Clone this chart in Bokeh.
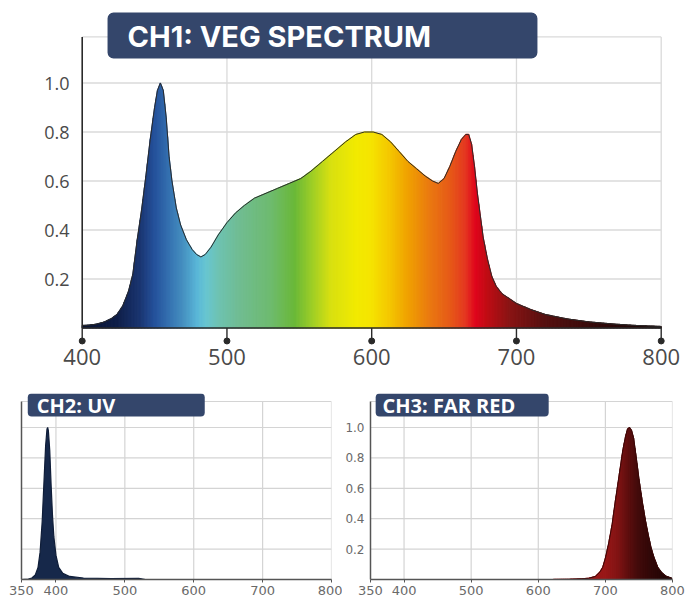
import numpy as np
from bokeh.plotting import figure
from bokeh.layouts import column, row
from bokeh.models import BoxAnnotation, Label, FixedTicker, PrintfTickFormatter, Range1d
from bokeh.embed import file_html
from bokeh.resources import INLINE

# ---------------- data ----------------
ch1_title = "CH1: VEG SPECTRUM"
ch2_title = "CH2: UV"
ch3_title = "CH3: FAR RED"

ch1_nm = [400, 405, 410, 415, 420, 424, 428, 432, 435, 438, 441, 444, 447, 450, 452, 454,
          456, 458, 460, 462, 465, 468, 472, 476, 479, 482, 485, 489, 494, 500, 506, 512,
          519, 527, 535, 543, 551, 558, 566, 574, 582, 589, 595, 601, 607, 613, 619, 625,
          631, 637, 642, 646, 650, 654, 658, 662, 665, 667, 669, 671, 673, 675, 677, 680,
          683, 686, 690, 695, 700, 710, 720, 735, 750, 765, 780, 800]
ch1_val = [0.010, 0.012, 0.016, 0.024, 0.038, 0.055, 0.09, 0.15, 0.22, 0.36, 0.48, 0.62, 0.77,
           0.90, 0.97, 1.00, 0.97, 0.86, 0.70, 0.60, 0.49, 0.42, 0.36, 0.32, 0.30, 0.29, 0.30,
           0.33, 0.38, 0.43, 0.47, 0.50, 0.53, 0.55, 0.57, 0.59, 0.61, 0.64, 0.68, 0.72, 0.76,
           0.79, 0.80, 0.80, 0.79, 0.76, 0.72, 0.68, 0.65, 0.62, 0.60, 0.59, 0.61, 0.66, 0.72,
           0.77, 0.79, 0.79, 0.75, 0.66, 0.55, 0.46, 0.37, 0.28, 0.21, 0.17, 0.14, 0.12, 0.10,
           0.075, 0.055, 0.037, 0.025, 0.017, 0.011, 0.006]

ch2_nm = [350, 360, 365, 370, 374, 377, 380, 383, 385, 387, 388, 389, 391, 393, 395, 397,
          400, 404, 410, 420, 440, 480, 520, 530]
ch2_val = [0.0, 0.003, 0.01, 0.03, 0.08, 0.18, 0.38, 0.68, 0.88, 0.99, 1.00, 0.98, 0.85, 0.62,
           0.42, 0.28, 0.16, 0.08, 0.04, 0.02, 0.01, 0.006, 0.008, 0.0]

ch3_nm = [620, 650, 665, 675, 685, 692, 696, 700, 705, 710, 714, 718, 722, 726, 730, 733, 736,
          739, 742, 746, 750, 755, 760, 764, 768, 772, 778, 784, 790, 799]
ch3_val = [0.0, 0.002, 0.005, 0.008, 0.02, 0.05, 0.08, 0.14, 0.24, 0.36, 0.49, 0.61, 0.73, 0.85,
           0.94, 0.99, 1.00, 0.98, 0.93, 0.80, 0.66, 0.51, 0.38, 0.29, 0.21, 0.15, 0.08, 0.045,
           0.022, 0.008]

top_x_ticks = [400, 500, 600, 700, 800]
bottom_x_ticks = [350, 400, 500, 600, 700, 800]
y_ticks = [0.2, 0.4, 0.6, 0.8, 1.0]

# ---------------- styles ----------------
ch1_stops = [(400, "#0a1430"), (425, "#0f1f4a"), (440, "#1a3570"), (450, "#24509a"),
             (460, "#3470b0"), (470, "#4590c0"), (480, "#5ab8d8"), (486, "#68c6d0"),
             (495, "#6ec2b0"), (510, "#70bc90"), (530, "#6ebb70"), (547, "#6ab838"),
             (558, "#98cc28"), (572, "#d8e010"), (590, "#f2ea00"), (600, "#f5e400"),
             (612, "#f4c800"), (625, "#f0a200"), (640, "#ea7a10"), (655, "#e65818"),
             (665, "#e43820"), (672, "#e0041c"), (680, "#c00c14"), (695, "#8a1414"),
             (720, "#561010"), (760, "#300a0a"), (800, "#1a0606")]
ch3_stops = [(620, "#a01a1a"), (700, "#9a1818"), (720, "#801414"), (735, "#5e0f0f"),
             (750, "#420b0b"), (770, "#300808"), (800, "#1e0505")]
BOX = "#34466b"
GRID = "#dadada"
AX = "#2a2a2a"


def color_at(x, stops):
    sx = np.array([s[0] for s in stops], float)
    rgb = np.array([[int(s[1][i:i + 2], 16) for i in (1, 3, 5)] for s in stops], float)
    r, g, b = (int(round(np.interp(x, sx, rgb[:, k]))) for k in range(3))
    return "#%02x%02x%02x" % (r, g, b)


def gradient_slices(nm, val, stops, step=1.0):
    xs, ys, cols = [], [], []
    for i in range(len(nm) - 1):
        x0, x1, y0, y1 = nm[i], nm[i + 1], val[i], val[i + 1]
        n = max(1, int(np.ceil((x1 - x0) / step)))
        for k in range(n):
            a = x0 + (x1 - x0) * k / n
            b = x0 + (x1 - x0) * (k + 1) / n
            ya = y0 + (y1 - y0) * k / n
            yb = y0 + (y1 - y0) * (k + 1) / n
            xs.append([a, a, b, b])
            ys.append([0, ya, yb, 0])
            cols.append(color_at((a + b) / 2, stops))
    return xs, ys, cols


# ---------------- top chart ----------------
TOP_GRID_TOP = 1.188
top = figure(width=687, height=388, output_backend="svg", toolbar_location=None,
             x_range=Range1d(396.75, 803.66), y_range=Range1d(-0.0796, 1.296),
             min_border_left=77, min_border_right=21, min_border_top=10, min_border_bottom=41)
top.outline_line_color = None
top.xgrid.visible = False
top.ygrid.visible = False

# grid
top.segment(x0=[400] * len(y_ticks) + [400], x1=[800] * (len(y_ticks) + 1),
            y0=y_ticks + [TOP_GRID_TOP], y1=y_ticks + [TOP_GRID_TOP],
            line_color=GRID, line_width=1.3)
top.segment(x0=top_x_ticks[1:], x1=top_x_ticks[1:], y0=[0] * 4, y1=[TOP_GRID_TOP] * 4,
            line_color=GRID, line_width=1.3)

xs, ys, cols = gradient_slices(ch1_nm, ch1_val, ch1_stops)
top.patches(xs, ys, fill_color=cols, line_color=cols, line_width=1.2)
top.line(ch1_nm, ch1_val, line_color="#2b2b2b", line_width=1.0)

# axes
top.segment(x0=[400, 400], x1=[400, 800], y0=[0, 0], y1=[TOP_GRID_TOP, 0],
            line_color=AX, line_width=1.6)
top.segment(x0=top_x_ticks, x1=top_x_ticks, y0=[0] * 5, y1=[-0.053] * 5,
            line_color=AX, line_width=1.4)
top.scatter(top_x_ticks, [-0.053] * 5, size=6, color=AX)

top.xaxis.ticker = FixedTicker(ticks=top_x_ticks)
top.xaxis.axis_line_color = None
top.xaxis.major_tick_line_color = None
top.xaxis.minor_tick_line_color = None
top.xaxis.major_tick_out = 0
top.xaxis.major_label_standoff = 1
top.xaxis.major_label_text_font = "Open Sans"
top.xaxis.major_label_text_font_size = "22px"
top.xaxis.major_label_text_color = "#4a4a4a"

top.yaxis.ticker = FixedTicker(ticks=y_ticks)
top.yaxis.formatter = PrintfTickFormatter(format="%.1f")
top.yaxis.axis_line_color = None
top.yaxis.major_tick_line_color = None
top.yaxis.minor_tick_line_color = None
top.yaxis.major_tick_out = 0
top.yaxis.major_label_standoff = 8
top.yaxis.major_label_text_font = "Open Sans"
top.yaxis.major_label_text_font_size = "18px"
top.yaxis.major_label_text_color = "#4a4a4a"

top.add_layout(BoxAnnotation(left=417.5, right=714.5, bottom=1.1, top=1.288,
                             fill_color=BOX, fill_alpha=1, line_color=None, border_radius=6))
top.add_layout(Label(x=431.3, y=1.19, text=ch1_title, text_color="white",
                     text_font="Inter", text_font_style="bold", text_font_size="29px",
                     text_baseline="middle", text_align="left"))


# ---------------- bottom charts ----------------
BOT_GRID_TOP = 1.171


def small_chart(width, mb_left, mb_right, with_ylabels):
    p = figure(width=width, height=213, output_backend="svg", toolbar_location=None,
               x_range=Range1d(350, 800), y_range=Range1d(0, 1.2237),
               min_border_left=mb_left, min_border_right=mb_right,
               min_border_top=5, min_border_bottom=22)
    p.outline_line_color = None
    p.xgrid.visible = False
    p.ygrid.visible = False
    p.segment(x0=[350] * 6, x1=[800] * 6, y0=y_ticks + [BOT_GRID_TOP], y1=y_ticks + [BOT_GRID_TOP],
              line_color="#d4d4d4", line_width=1.2)
    p.segment(x0=bottom_x_ticks[1:], x1=bottom_x_ticks[1:], y0=[0] * 5, y1=[BOT_GRID_TOP] * 5,
              line_color="#d4d4d4", line_width=1.2)
    p.xaxis.ticker = FixedTicker(ticks=bottom_x_ticks)
    p.xaxis.axis_line_color = "#555555"
    p.xaxis.axis_line_width = 1.5
    p.xaxis.major_tick_line_color = "#555555"
    p.xaxis.major_tick_out = 3
    p.xaxis.major_tick_in = 0
    p.xaxis.minor_tick_line_color = None
    p.xaxis.major_label_standoff = 3
    p.xaxis.major_label_text_font = "DejaVu Sans"
    p.xaxis.major_label_text_font_size = "13px"
    p.xaxis.major_label_text_color = "#6a6a6a"
    p.yaxis.ticker = FixedTicker(ticks=y_ticks if with_ylabels else [])
    p.yaxis.formatter = PrintfTickFormatter(format="%.1f")
    p.yaxis.bounds = (0, BOT_GRID_TOP)
    p.yaxis.axis_line_color = "#555555"
    p.yaxis.axis_line_width = 1.5
    p.yaxis.major_tick_line_color = None
    p.yaxis.minor_tick_line_color = None
    p.yaxis.major_tick_out = 0
    p.yaxis.major_label_standoff = 6
    p.yaxis.major_label_text_font = "DejaVu Sans"
    p.yaxis.major_label_text_font_size = "12px"
    p.yaxis.major_label_text_color = "#6a6a6a"
    return p


bl = small_chart(342, 21, 11, False)
bl.varea(x=ch2_nm, y1=0, y2=ch2_val, fill_color="#16284a")
bl.line(ch2_nm, ch2_val, line_color="#0f1d38", line_width=1.2)
bl.add_layout(BoxAnnotation(left=359.1, right=616, bottom=1.072, top=1.2237,
                            fill_color=BOX, fill_alpha=1, line_color=None, border_radius=4))
bl.add_layout(Label(x=372.2, y=1.148, text=ch2_title, text_color="white",
                    text_font="Open Sans", text_font_style="bold", text_font_size="20px",
                    text_baseline="middle", text_align="left"))

br = small_chart(353, 21, 23, True)
xs3, ys3, cols3 = gradient_slices(ch3_nm, ch3_val, ch3_stops)
br.patches(xs3, ys3, fill_color=cols3, line_color=cols3, line_width=1.2)
br.line(ch3_nm, ch3_val, line_color="#3a0808", line_width=1.0)
br.add_layout(BoxAnnotation(left=357.7, right=615.5, bottom=1.072, top=1.2237,
                            fill_color=BOX, fill_alpha=1, line_color=None, border_radius=4))
br.add_layout(Label(x=367.9, y=1.148, text=ch3_title, text_color="white",
                    text_font="Open Sans", text_font_style="bold", text_font_size="20px",
                    text_baseline="middle", text_align="left"))

layout = column(top, row(bl, br))
open("out.html", "w").write(file_html(layout, INLINE))
